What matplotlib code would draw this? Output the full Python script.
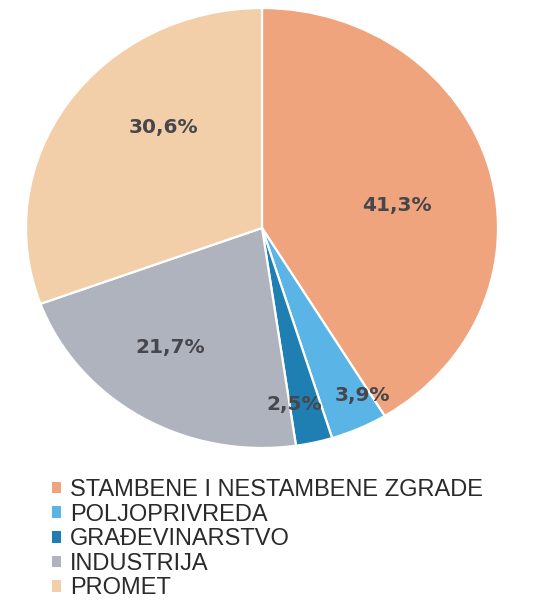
import numpy as np
import matplotlib
matplotlib.use("Agg")
import matplotlib.pyplot as plt

# Shares of energy consumption by sector (%)
categories = [
    "STAMBENE I NESTAMBENE ZGRADE",
    "POLJOPRIVREDA",
    "GRAĐEVINARSTVO",
    "INDUSTRIJA",
    "PROMET",
]
shares = [41.3, 3.9, 2.5, 21.7, 30.6]
colors = ["#EFA47D", "#5AB4E5", "#1F7FB2", "#AEB3BD", "#F2CFA8"]

# Per-slice label placement: radial distance and angular nudge (degrees)
label_radius = [0.58, 0.87, 0.815, 0.667, 0.62]
label_nudge = [-5.7, 4.9, -3.2, -5.0, -12.7]

plt.rcParams["font.family"] = ["Liberation Sans", "DejaVu Sans"]

fig = plt.figure(figsize=(5.35, 6.01), dpi=100)
ax = fig.add_axes([26 / 535, 1 - 448 / 601, 472 / 535, 440 / 601])

wedges, _ = ax.pie(
    shares,
    colors=colors,
    startangle=90,
    counterclock=False,
    radius=1.0,
    wedgeprops=dict(edgecolor="white", linewidth=1.6),
)
ax.set_aspect("auto")
ax.set_xlim(-1, 1)
ax.set_ylim(-1, 1)
ax.axis("off")

for w, val, r, d in zip(wedges, shares, label_radius, label_nudge):
    mid = np.deg2rad((w.theta1 + w.theta2) / 2 + d)
    ax.text(r * np.cos(mid), r * np.sin(mid),
            f"{val:.1f}%".replace(".", ","),
            ha="center", va="center", fontsize=14.5, fontweight="bold",
            family=["DejaVu Sans"], color="#46464C")

leg = fig.legend(
    wedges, categories,
    loc="upper left", bbox_to_anchor=(52 / 535, 1 - 479 / 601),
    frameon=False, fontsize=17,
    handlelength=0.38, handleheight=0.38, handletextpad=0.38,
    labelspacing=0.11, borderpad=0, borderaxespad=0,
)
for t in leg.get_texts():
    t.set_color("#2A2A2A")
for h in leg.legend_handles:
    h.set_edgecolor("none")

fig.savefig("out.png", dpi=100)
